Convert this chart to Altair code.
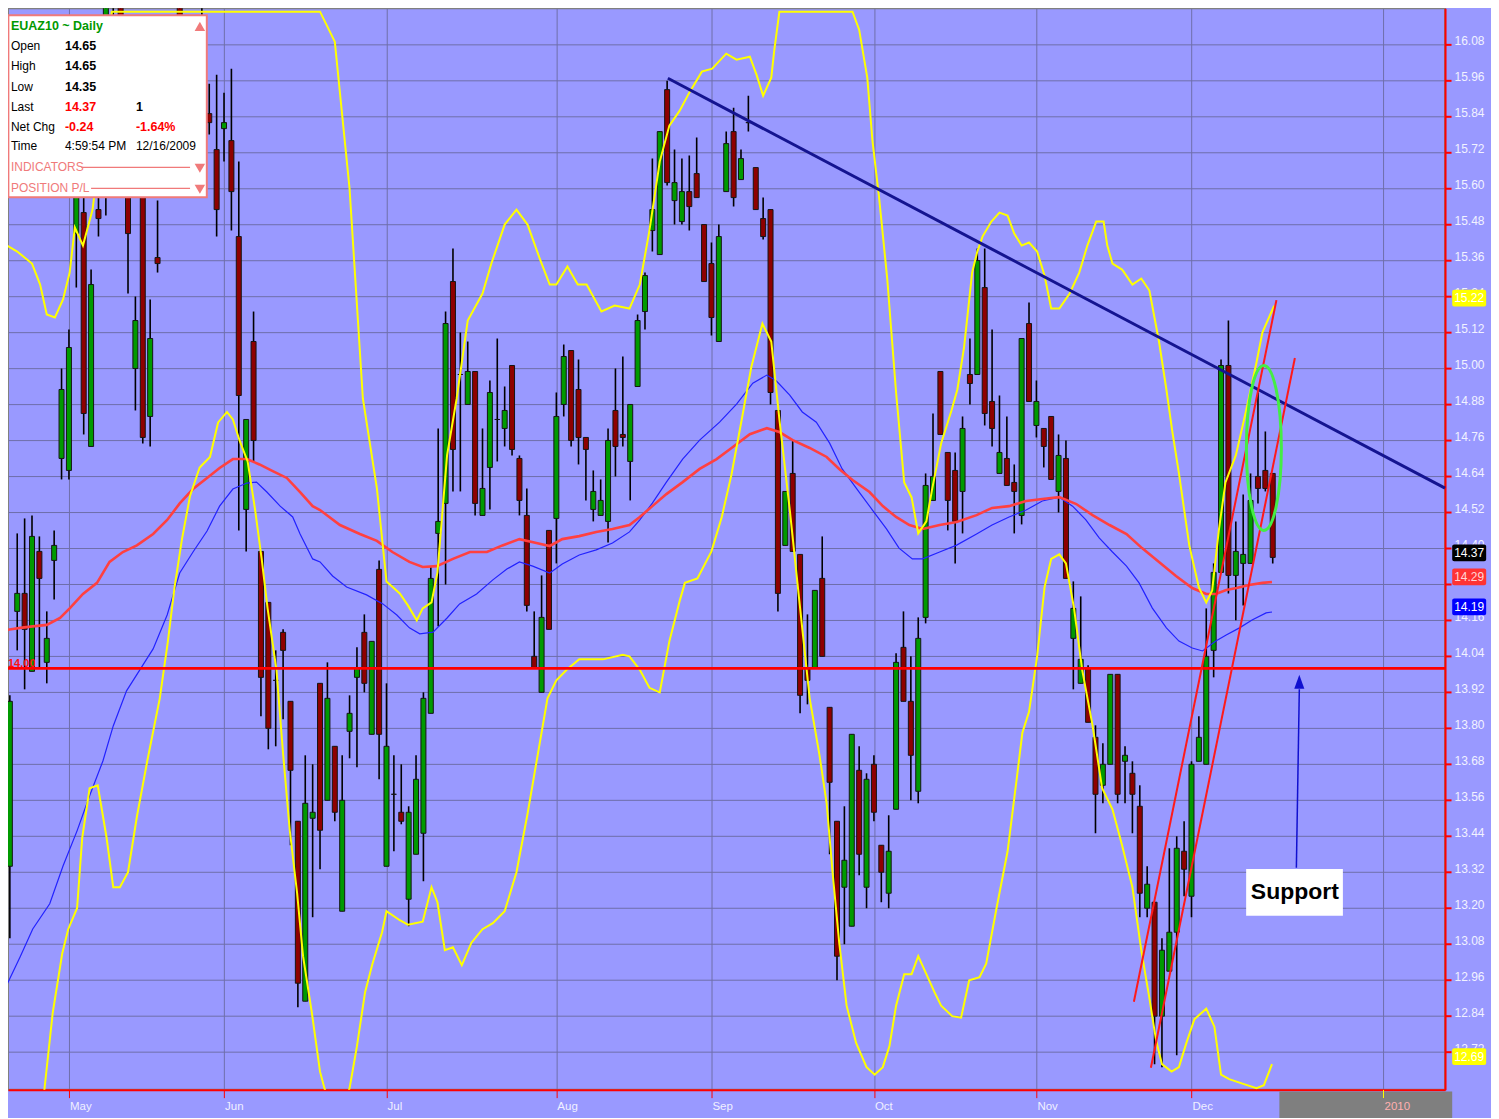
import altair as alt
import pandas as pd

FONT = "Liberation Sans, Arial, sans-serif"
BG = "#9999FF"
GRID = "#6E6EAA"
UP = "#009A00"
DOWN = "#8E0000"

X_MIN, X_MAX = -8.25, 186.33
Y_MIN, Y_MAX = 12.595, 16.201

# ---------------- daily candles (open, high, low, close), first bar = day -8 ----------------
first_day = -8
ohlc = [
    # late April
    (13.34, 13.91, 13.10, 13.89), (14.19, 14.45, 14.06, 14.25), (14.25, 14.50, 13.93, 14.13),
    (13.99, 14.51, 13.99, 14.44), (14.39, 14.44, 14.00, 14.30), (14.02, 14.19, 13.95, 14.10),
    (14.36, 14.46, 14.23, 14.41), (14.70, 15.00, 14.63, 14.93),
    # May
    (14.66, 15.13, 14.63, 15.07), (15.45, 15.75, 15.27, 15.62), (15.52, 15.60, 14.78, 14.85),
    (14.74, 15.33, 14.74, 15.28), (15.53, 15.67, 15.44, 15.50), (15.60, 16.30, 15.51, 16.25),
    (16.00, 16.30, 15.85, 16.05), (16.25, 16.30, 15.80, 15.90), (15.85, 15.95, 15.25, 15.45),
    (15.00, 15.24, 14.86, 15.16), (15.62, 15.70, 14.75, 14.77), (14.84, 15.23, 14.74, 15.10),
    (15.37, 15.56, 15.32, 15.35), (15.60, 15.85, 15.58, 15.75), (15.75, 16.00, 15.65, 15.90),
    (16.25, 16.30, 15.85, 15.95), (15.95, 16.05, 15.75, 15.85), (15.85, 16.10, 15.80, 16.00),
    (16.00, 16.30, 15.90, 16.10), (15.85, 15.95, 15.78, 15.82), (15.73, 15.98, 15.44, 15.53),
    # June
    (15.80, 15.92, 15.69, 15.82), (15.76, 16.00, 15.46, 15.59), (15.44, 15.69, 14.46, 14.91),
    (14.53, 14.83, 14.39, 14.83), (15.09, 15.19, 14.69, 14.76), (14.39, 14.39, 13.84, 13.97),
    (14.22, 14.22, 13.73, 13.80), (13.96, 14.06, 13.74, 13.96), (14.12, 14.13, 13.83, 14.06),
    (13.89, 13.89, 13.41, 13.66), (13.49, 13.49, 12.87, 12.95), (12.89, 13.71, 12.89, 13.55),
    (13.50, 13.68, 13.17, 13.52), (13.95, 13.95, 13.33, 13.46), (13.56, 14.02, 13.56, 13.90),
    (13.74, 13.74, 13.49, 13.52), (13.19, 13.71, 13.19, 13.56), (13.79, 13.91, 13.70, 13.85),
    (13.97, 14.07, 13.67, 14.00), (14.12, 14.18, 13.92, 13.95), (13.78, 14.09, 13.78, 14.09),
    (14.33, 14.36, 13.63, 13.78),
    # July
    (13.34, 13.95, 13.34, 13.74), (13.58, 13.71, 13.39, 13.58), (13.52, 13.68, 13.48, 13.49),
    (13.23, 13.54, 13.14, 13.52), (13.38, 13.71, 13.38, 13.63), (13.45, 13.92, 13.29, 13.90),
    (13.85, 14.34, 13.85, 14.30), (14.45, 14.80, 14.14, 14.49), (14.55, 15.19, 14.28, 15.15),
    (15.29, 15.40, 14.59, 14.73), (14.98, 15.12, 14.59, 14.98), (14.88, 15.09, 14.88, 14.99),
    (14.99, 14.99, 14.51, 14.55), (14.51, 14.80, 14.51, 14.60), (14.67, 14.96, 14.53, 14.92),
    (14.83, 15.10, 14.69, 14.83), (14.80, 14.94, 14.74, 14.86), (15.01, 15.01, 14.71, 14.73),
    (14.70, 14.71, 14.51, 14.56), (14.51, 14.60, 14.19, 14.21), (14.04, 14.19, 14.00, 14.00),
    (13.92, 14.31, 13.92, 14.17), (14.46, 14.46, 14.13, 14.13),
    # August
    (14.50, 14.92, 14.35, 14.84), (14.88, 15.08, 14.84, 15.04), (15.06, 15.06, 14.74, 14.76),
    (14.93, 15.03, 14.68, 14.77), (14.77, 14.77, 14.56, 14.73), (14.53, 14.66, 14.49, 14.59),
    (14.51, 14.63, 14.51, 14.56), (14.49, 14.80, 14.42, 14.76), (14.86, 15.00, 14.64, 14.74),
    (14.78, 15.04, 14.74, 14.77), (14.69, 14.88, 14.56, 14.88), (14.94, 15.18, 14.94, 15.16),
    (15.19, 15.32, 15.13, 15.31), (15.46, 15.70, 15.39, 15.53), (15.38, 15.79, 15.38, 15.79),
    (15.93, 15.96, 15.61, 15.62), (15.56, 15.73, 15.48, 15.62), (15.49, 15.70, 15.48, 15.59),
    (15.59, 15.71, 15.46, 15.54), (15.65, 15.77, 15.57, 15.57), (15.48, 15.48, 15.29, 15.29),
    # September
    (15.35, 15.42, 15.11, 15.17), (15.09, 15.48, 15.09, 15.44), (15.59, 15.79, 15.59, 15.75),
    (15.79, 15.87, 15.54, 15.57), (15.63, 15.73, 15.63, 15.70), (15.82, 15.91, 15.79, 15.82),
    (15.67, 15.67, 15.53, 15.53), (15.50, 15.57, 15.43, 15.44), (15.53, 15.53, 14.88, 14.92),
    (14.86, 14.86, 14.19, 14.25), (14.41, 14.59, 14.41, 14.59), (14.65, 14.76, 14.39, 14.39),
    (14.38, 14.38, 13.85, 13.91), (14.00, 14.18, 13.88, 13.96), (14.00, 14.26, 14.00, 14.26),
    (14.30, 14.44, 14.04, 14.04), (13.87, 13.87, 13.38, 13.62), (13.49, 13.49, 12.96, 13.04),
    (13.27, 13.54, 13.08, 13.36), (13.14, 13.78, 13.14, 13.78), (13.66, 13.74, 13.31, 13.38),
    (13.27, 13.65, 13.20, 13.63),
    # October
    (13.68, 13.71, 13.49, 13.52), (13.41, 13.41, 13.22, 13.32), (13.25, 13.51, 13.20, 13.39),
    (13.53, 14.05, 13.53, 14.02), (14.07, 14.19, 13.89, 13.89), (13.89, 14.04, 13.56, 13.71),
    (13.59, 14.17, 13.55, 14.10), (14.17, 14.65, 14.15, 14.61), (14.56, 14.85, 14.56, 14.64),
    (14.99, 14.99, 14.78, 14.78), (14.72, 14.72, 14.46, 14.56), (14.66, 14.72, 14.35, 14.49),
    (14.59, 14.84, 14.45, 14.80), (14.98, 15.10, 14.88, 14.95), (14.98, 15.40, 14.98, 15.36),
    (15.27, 15.40, 14.81, 14.85), (14.89, 15.13, 14.74, 14.80), (14.65, 14.91, 14.65, 14.72),
    (14.70, 14.84, 14.61, 14.61), (14.62, 14.68, 14.45, 14.59), (14.51, 15.10, 14.48, 15.10),
    (15.15, 15.22, 14.89, 14.89),
    # November
    (14.81, 14.96, 14.77, 14.89), (14.80, 14.80, 14.67, 14.74), (14.84, 14.84, 14.63, 14.63),
    (14.59, 14.78, 14.52, 14.71), (14.70, 14.76, 14.30, 14.30), (14.10, 14.29, 13.93, 14.20),
    (13.95, 14.24, 13.95, 14.03), (14.00, 14.01, 13.82, 13.82), (13.77, 13.81, 13.45, 13.58),
    (13.61, 13.75, 13.55, 13.68), (13.68, 13.98, 13.68, 13.98), (13.98, 13.98, 13.55, 13.58),
    (13.69, 13.74, 13.55, 13.71), (13.65, 13.69, 13.45, 13.58), (13.54, 13.61, 13.17, 13.25),
    (13.20, 13.34, 13.17, 13.28), (13.22, 13.22, 12.68, 12.84), (12.84, 13.10, 12.67, 13.06),
    (12.99, 13.40, 12.99, 13.12), (13.12, 13.44, 12.71, 13.40), (13.39, 13.49, 13.24, 13.33),
    # December
    (13.24, 13.69, 13.17, 13.68), (13.69, 13.84, 13.69, 13.77), (13.68, 14.20, 13.68, 14.04),
    (14.06, 14.35, 13.97, 14.32), (14.32, 15.03, 14.32, 15.01), (15.01, 15.16, 14.25, 14.31),
    (14.31, 14.49, 14.16, 14.39), (14.35, 14.58, 14.21, 14.38), (14.35, 14.65, 14.35, 14.56),
    (14.64, 14.92, 14.55, 14.60), (14.66, 14.79, 14.59, 14.60), (14.65, 14.65, 14.35, 14.37),
]

# ---------------- indicator lines (day index, price) ----------------
upper_band = [
    (-8.4, 15.41), (-7.0, 15.39), (-5.0, 15.35), (-3.9, 15.28), (-3.0, 15.18), (-1.9, 15.17),
    (-0.8, 15.23), (0.1, 15.32), (0.8, 15.47), (1.9, 15.41), (3.2, 15.53), (4.2, 15.73),
    (5.8, 16.19), (34.0, 16.19), (36.0, 16.09), (38.0, 15.60), (39.8, 14.90), (41.7, 14.60),
    (43.0, 14.29), (44.8, 14.25), (45.9, 14.21), (47.1, 14.16), (47.9, 14.20), (49.1, 14.22),
    (49.9, 14.32), (51.2, 14.71), (52.5, 14.90), (54.0, 15.16), (56.0, 15.25), (57.2, 15.35),
    (59.0, 15.48), (60.6, 15.53), (62.1, 15.48), (63.7, 15.37), (65.1, 15.28), (66.0, 15.28),
    (67.5, 15.34), (68.9, 15.28), (70.1, 15.28), (72.1, 15.19), (73.9, 15.21), (75.9, 15.20),
    (77.3, 15.28), (78.6, 15.46), (80.0, 15.69), (81.3, 15.81), (82.7, 15.86), (84.0, 15.92),
    (85.7, 15.99), (87.1, 16.00), (89.0, 16.05), (90.4, 16.03), (92.2, 16.04), (93.1, 15.98),
    (94.0, 15.91), (95.1, 15.97), (95.5, 16.06), (96.2, 16.19), (106.1, 16.19), (107.0, 16.13),
    (108.1, 15.97), (108.8, 15.76), (109.7, 15.57), (110.8, 15.30), (112.0, 14.92), (113.1, 14.62),
    (114.1, 14.57), (115.0, 14.45), (116.1, 14.49), (116.9, 14.60), (118.1, 14.75), (119.5, 14.86),
    (120.3, 14.93), (121.2, 15.07), (122.3, 15.32), (123.0, 15.39), (123.7, 15.44), (124.9, 15.49),
    (126.0, 15.52), (127.1, 15.51), (128.0, 15.45), (129.0, 15.41), (130.0, 15.42), (131.1, 15.39),
    (132.1, 15.31), (133.0, 15.20), (134.1, 15.20), (135.5, 15.25), (136.8, 15.32), (137.9, 15.41),
    (139.1, 15.49), (140.1, 15.49), (140.6, 15.41), (141.3, 15.35), (142.6, 15.33), (144.0, 15.28),
    (145.2, 15.30), (146.3, 15.26), (147.6, 15.09), (148.6, 14.93), (149.4, 14.79), (150.3, 14.65),
    (151.7, 14.41), (153.0, 14.27), (154.0, 14.22), (154.8, 14.26), (155.7, 14.46), (156.6, 14.62),
    (158.0, 14.71), (159.4, 14.86), (160.8, 15.02), (161.6, 15.12), (163.2, 15.21),
]
lower_band = [
    (-4.0, 12.45), (-3.3, 12.60), (-2.2, 12.85), (-0.9, 13.05), (-0.1, 13.13), (1.1, 13.20),
    (1.8, 13.435), (2.8, 13.60), (3.9, 13.61), (5.1, 13.435), (6.0, 13.27), (6.9, 13.27),
    (8.0, 13.32), (9.2, 13.505), (10.6, 13.69), (12.3, 13.90), (13.4, 14.09), (14.3, 14.27),
    (15.3, 14.43), (16.4, 14.575), (17.7, 14.67), (19.1, 14.705), (20.2, 14.82), (21.4, 14.855),
    (22.2, 14.83), (23.1, 14.76), (24.2, 14.69), (25.2, 14.53), (26.1, 14.365), (26.9, 14.20),
    (28.1, 13.995), (29.0, 13.715), (29.9, 13.46), (30.9, 13.25), (31.7, 13.04), (32.9, 12.85),
    (34.0, 12.655), (34.6, 12.60), (36.3, 12.46), (38.0, 12.60), (39.0, 12.74), (40.1, 12.92),
    (41.1, 13.015), (42.4, 13.12), (43.0, 13.19), (44.8, 13.16), (45.9, 13.145), (47.9, 13.155),
    (49.1, 13.27), (49.9, 13.22), (50.9, 13.06), (52.0, 13.07), (53.2, 13.01), (54.5, 13.085),
    (56.0, 13.13), (57.4, 13.15), (59.0, 13.19), (60.6, 13.32), (62.1, 13.515), (63.5, 13.715),
    (64.8, 13.90), (66.0, 13.96), (67.4, 13.995), (69.1, 14.03), (72.3, 14.03), (75.0, 14.045),
    (75.9, 14.04), (77.3, 13.995), (78.6, 13.935), (80.0, 13.92), (81.3, 14.09), (82.7, 14.225),
    (83.4, 14.285), (85.1, 14.30), (87.0, 14.39), (88.4, 14.505), (89.7, 14.645), (91.1, 14.83),
    (92.4, 15.005), (93.9, 15.15), (95.1, 15.09), (96.2, 14.83), (97.6, 14.53), (98.9, 14.225),
    (100.3, 13.90), (101.6, 13.715), (102.6, 13.55), (103.4, 13.32), (104.3, 13.085), (105.3, 12.875),
    (106.6, 12.75), (108.0, 12.67), (109.1, 12.645), (110.2, 12.67), (111.1, 12.74), (112.0, 12.875),
    (113.1, 12.98), (114.1, 12.98), (115.0, 13.04), (116.1, 12.98), (117.2, 12.92), (118.1, 12.875),
    (119.6, 12.84), (120.8, 12.835), (121.9, 12.96), (123.3, 12.97), (124.2, 13.015), (125.6, 13.20),
    (127.1, 13.39), (128.4, 13.645), (129.1, 13.785), (130.0, 13.855), (131.1, 14.04), (132.1, 14.27),
    (133.0, 14.365), (134.1, 14.38), (135.0, 14.35), (136.1, 14.20), (137.2, 13.995), (138.6, 13.81),
    (139.9, 13.60), (141.3, 13.53), (142.6, 13.41), (144.0, 13.27), (145.2, 13.06), (146.3, 12.90),
    (147.2, 12.76), (148.0, 12.68), (149.3, 12.655), (150.3, 12.67), (151.3, 12.75), (152.4, 12.83),
    (154.0, 12.865), (155.1, 12.805), (156.0, 12.645), (157.1, 12.63), (158.9, 12.615), (160.8, 12.60),
    (161.8, 12.61), (162.9, 12.68),
]
slow_ma = [
    (-8.4, 14.128), (-6.6, 14.135), (-4.9, 14.14), (-3.0, 14.145), (-1.2, 14.168), (0.1, 14.20),
    (1.9, 14.248), (3.8, 14.285), (5.5, 14.355), (7.3, 14.388), (9.2, 14.41), (11.4, 14.448),
    (13.3, 14.495), (15.0, 14.55), (16.8, 14.598), (18.7, 14.635), (20.4, 14.668), (22.2, 14.698),
    (24.1, 14.698), (25.8, 14.68), (27.6, 14.658), (29.5, 14.635), (31.3, 14.588), (33.0, 14.541),
    (34.0, 14.528), (36.7, 14.478), (39.4, 14.448), (41.7, 14.425), (43.8, 14.388), (46.1, 14.355),
    (47.9, 14.338), (49.8, 14.341), (52.0, 14.365), (54.3, 14.388), (56.6, 14.388), (58.7, 14.41),
    (61.0, 14.431), (63.3, 14.418), (65.1, 14.408), (66.8, 14.431), (69.1, 14.441), (71.4, 14.455),
    (73.6, 14.465), (75.9, 14.478), (77.3, 14.505), (79.0, 14.541), (80.9, 14.581), (83.1, 14.621),
    (85.4, 14.665), (87.7, 14.698), (89.9, 14.738), (92.2, 14.781), (94.5, 14.801), (96.2, 14.788),
    (98.0, 14.761), (100.3, 14.735), (102.6, 14.705), (104.3, 14.665), (106.1, 14.628), (108.4, 14.588),
    (110.2, 14.541), (112.0, 14.505), (113.8, 14.478), (115.6, 14.465), (117.9, 14.478), (120.2, 14.488),
    (122.9, 14.511), (125.0, 14.535), (127.3, 14.541), (129.6, 14.558), (131.8, 14.565), (134.1, 14.571),
    (136.4, 14.548), (138.6, 14.511), (140.9, 14.478), (143.2, 14.448), (145.3, 14.401), (147.6, 14.355),
    (149.9, 14.308), (152.1, 14.268), (154.0, 14.248), (155.3, 14.248), (156.7, 14.261), (158.1, 14.268),
    (159.8, 14.278), (161.6, 14.285), (162.9, 14.288),
]
fast_ma = [
    (-8.4, 12.945), (-6.6, 13.038), (-4.9, 13.131), (-2.6, 13.215), (-0.8, 13.341), (1.1, 13.458),
    (2.8, 13.575), (4.6, 13.691), (6.0, 13.808), (7.8, 13.925), (9.6, 13.995), (11.4, 14.065),
    (13.3, 14.178), (15.0, 14.318), (16.8, 14.388), (18.7, 14.458), (20.4, 14.541), (22.2, 14.598),
    (24.1, 14.618), (25.4, 14.621), (26.8, 14.588), (28.6, 14.541), (30.3, 14.505), (31.3, 14.448),
    (33.0, 14.365), (34.0, 14.355), (35.7, 14.308), (37.6, 14.271), (40.3, 14.245), (42.5, 14.215),
    (44.4, 14.178), (46.1, 14.135), (47.5, 14.115), (49.3, 14.121), (51.2, 14.168), (52.9, 14.215),
    (55.2, 14.248), (57.4, 14.295), (59.3, 14.331), (61.0, 14.355), (62.8, 14.341), (65.1, 14.318),
    (66.8, 14.348), (69.1, 14.378), (71.4, 14.395), (73.6, 14.418), (75.9, 14.455), (77.3, 14.495),
    (79.0, 14.551), (80.9, 14.621), (83.1, 14.698), (85.4, 14.761), (88.1, 14.821), (90.4, 14.881),
    (92.6, 14.951), (94.5, 14.978), (95.8, 14.958), (97.6, 14.911), (99.3, 14.855), (101.2, 14.821),
    (103.0, 14.751), (104.7, 14.665), (107.0, 14.588), (108.8, 14.528), (110.7, 14.465), (112.4, 14.401),
    (114.2, 14.365), (115.6, 14.365), (117.9, 14.388), (120.2, 14.411), (122.9, 14.448), (125.0, 14.478),
    (127.3, 14.505), (129.6, 14.528), (131.8, 14.558), (134.1, 14.571), (135.9, 14.541), (137.7, 14.495),
    (139.5, 14.435), (141.3, 14.388), (143.2, 14.341), (144.9, 14.285), (146.7, 14.201), (148.6, 14.135),
    (150.3, 14.091), (152.1, 14.068), (153.5, 14.058), (155.3, 14.091), (156.7, 14.111), (158.5, 14.135),
    (160.2, 14.161), (162.1, 14.185), (162.9, 14.188),
]

# drawn trend lines (day index, price)
down_trend = [(81.1, 15.968), (186.33, 14.601)]
up_channel_a = [(144.2, 12.888), (163.5, 15.228)]
up_channel_b = [(146.5, 12.668), (166.0, 15.035)]
support_level = [14.00]

# axes
month_ticks = [0, 21, 43, 66, 87, 109, 131, 152, 178]
month_names = ["May", "Jun", "Jul", "Aug", "Sep", "Oct", "Nov", "Dec", "2010"]
price_ticks = [12.72, 12.84, 12.96, 13.08, 13.20, 13.32, 13.44, 13.56, 13.68, 13.80, 13.92,
               14.04, 14.16, 14.28, 14.40, 14.52, 14.64, 14.76, 14.88, 15.00, 15.12, 15.24,
               15.36, 15.48, 15.60, 15.72, 15.84, 15.96, 16.08]

# last-value tags on the price axis
tag_values = [15.22, 14.37, 14.29, 14.19, 12.69]
tag_fills = ["#FFFF00", "#000000", "#FF3333", "#0000FF", "#FFFF00"]
tag_text = ["#FFFFFF", "#FFFFFF", "#FFD6D6", "#FFFFFF", "#FFFFFF"]

# ---------------- frames ----------------
candles = pd.DataFrame(ohlc, columns=["open", "high", "low", "close"])
candles["i"] = list(range(first_day, first_day + len(candles)))


def pts(pairs):
    return pd.DataFrame(pairs, columns=["i", "p"])


XS = alt.Scale(domain=[X_MIN, X_MAX], nice=False, zero=False, padding=0)
YS = alt.Scale(domain=[Y_MIN, Y_MAX], nice=False, zero=False, padding=0)

x_axis = alt.Axis(values=month_ticks, labels=False, grid=True, gridColor=GRID, gridWidth=1,
                  ticks=True, tickColor="#FF0000", tickSize=8, tickWidth=1,
                  domainColor="#FF0000", domainWidth=2, title=None)
y_axis = alt.Axis(orient="right", values=price_ticks, format=".2f", grid=True, gridColor=GRID,
                  gridWidth=1, tickColor="#FF0000", tickSize=6, tickWidth=2,
                  domainColor="#FF0000", domainWidth=2, labelColor="#F2F2FF", labelFont=FONT,
                  labelFontSize=12, labelPadding=3, labelOffset=-4, labelOverlap=False, title=None)


def X(f):
    return alt.X(f"{f}:Q", scale=XS, axis=x_axis)


def Y(f):
    return alt.Y(f"{f}:Q", scale=YS, axis=y_axis)


wicks = alt.Chart(candles).mark_rule(color="#000000", strokeWidth=1.6, clip=True).encode(
    x=X("i"), y=Y("low"), y2="high:Q")
bodies = alt.Chart(candles).mark_bar(size=5, stroke="#151515", strokeWidth=1, clip=True).encode(
    x=X("i"), y=Y("open"), y2="close:Q",
    color=alt.condition("datum.close >= datum.open", alt.value(UP), alt.value(DOWN)),
)

fast_line = alt.Chart(pts(fast_ma)).mark_line(color="#2222FF", strokeWidth=1.2, clip=True).encode(
    x=X("i"), y=Y("p"))
slow_line = alt.Chart(pts(slow_ma)).mark_line(color="#FF4040", strokeWidth=2.6, clip=True).encode(
    x=X("i"), y=Y("p"))
up_line = alt.Chart(pts(upper_band)).mark_line(color="#FFFF00", strokeWidth=2, clip=True).encode(
    x=X("i"), y=Y("p"))
lo_line = alt.Chart(pts(lower_band)).mark_line(color="#FFFF00", strokeWidth=2, clip=True).encode(
    x=X("i"), y=Y("p"))

support = alt.Chart(pd.DataFrame({"p": support_level})).mark_rule(
    color="#FF0000", strokeWidth=2.6).encode(y=Y("p"))
support_lbl = alt.Chart(pd.DataFrame({"p": support_level, "i": [X_MIN]})).mark_text(
    text="14.00", color="#FF1010", font=FONT, fontSize=11, fontWeight="bold",
    align="left", baseline="alphabetic", dx=0, dy=-1).encode(x=X("i"), y=Y("p"))

trend_blue = alt.Chart(pts(down_trend)).mark_line(color="#141490", strokeWidth=3).encode(
    x=X("i"), y=Y("p"))
chan_a = alt.Chart(pts(up_channel_a)).mark_line(color="#FF1A1A", strokeWidth=2).encode(
    x=X("i"), y=Y("p"))
chan_b = alt.Chart(pts(up_channel_b)).mark_line(color="#FF1A1A", strokeWidth=2).encode(
    x=X("i"), y=Y("p"))

ELLIPSE = ("M0,-1C0.117,-1,0.212,-0.552,0.212,0C0.212,0.552,0.117,1,0,1"
           "C-0.117,1,-0.212,0.552,-0.212,0C-0.212,-0.552,-0.117,-1,0,-1Z")
ellipse = alt.Chart(pd.DataFrame({"i": [161.8], "p": [14.735]})).mark_point(
    shape=ELLIPSE, size=27225, filled=False, color="#44EE44", strokeWidth=3, opacity=1).encode(
    x=X("i"), y=Y("p"))

arrow = alt.Chart(pd.DataFrame({"i": [166.2], "p": [13.335], "i2": [166.6], "p2": [13.93]})).mark_rule(
    color="#1010D0", strokeWidth=1.5).encode(x=X("i"), y=Y("p"), x2="i2:Q", y2="p2:Q")
ARROWHEAD = "M0,-1L-0.72,1L0.72,1Z"
arrow_head = alt.Chart(pd.DataFrame({"i": [166.6], "p": [13.955]})).mark_point(
    shape=ARROWHEAD, size=196, filled=True, color="#1010D0", opacity=1).encode(x=X("i"), y=Y("p"))

sup_box = alt.Chart(pd.DataFrame({"i": [159.4], "i2": [172.5], "p": [13.175], "p2": [13.331]})).mark_rect(
    color="#FFFFFF").encode(x=X("i"), x2="i2:Q", y=Y("p"), y2="p2:Q")
sup_txt = alt.Chart(pd.DataFrame({"i": [166.0], "p": [13.253]})).mark_text(
    text="Support", font=FONT, fontSize=23, fontWeight="bold", color="#000000",
    align="center", baseline="middle").encode(x=X("i"), y=Y("p"))

# value tags right of the plot
tags = pd.DataFrame({"v": tag_values, "fill": tag_fills, "tc": tag_text})
tag_rect = alt.Chart(tags).transform_calculate(
    top="datum.v + 0.043", bot="datum.v - 0.013", x1="187.3", x2="191.9").mark_rect(
    cornerRadius=2).encode(x=X("x1"), x2="x2:Q", y=Y("top"), y2="bot:Q",
                           color=alt.Color("fill:N", scale=None))
tag_txt = alt.Chart(tags).transform_calculate(
    yy="datum.v + 0.015", xx="189.6", lbl="format(datum.v, '.2f')").mark_text(
    font=FONT, fontSize=12, align="center", baseline="middle").encode(
    x=X("xx"), y=Y("yy"), text="lbl:N", color=alt.Color("tc:N", scale=None))

# future zone under the time axis + month labels
future = alt.Chart(pd.DataFrame({"i": [163.9], "i2": [187.3], "p": [12.589], "p2": [12.49]})).mark_rect(
    color="#7F7F7F").encode(x=X("i"), x2="i2:Q", y=Y("p"), y2="p2:Q")
year_tick = alt.Chart(pd.DataFrame({"i": [178], "p": [12.594], "p2": [12.567]})).mark_rule(
    color="#FFFF00", strokeWidth=1).encode(x=X("i"), y=Y("p"), y2="p2:Q")
months = pd.DataFrame({"i": month_ticks, "name": month_names})
month_lbl = alt.Chart(months).transform_calculate(p="12.538").mark_text(
    font=FONT, fontSize=11.5, align="left", baseline="middle", dx=1).encode(
    x=X("i"), y=Y("p"), text="name:N",
    color=alt.condition("datum.name == '2010'", alt.value("#FFB0B0"), alt.value("#F0F0FF")))

# ---------------- quote window (top-left) ----------------
SAL = "#F07A7A"
info_box = alt.Chart(pd.DataFrame({"i": [-8.2], "i2": [18.67], "p": [16.178], "p2": [15.571]})).mark_rect(
    fill="#FFFFFF", stroke=SAL, strokeWidth=2).encode(x=X("i"), x2="i2:Q", y=Y("p"), y2="p2:Q")

info_plain = pd.DataFrame([
    ("Open", -7.85, 16.075, "#000000"), ("High", -7.85, 16.008, "#000000"),
    ("Low", -7.85, 15.938, "#000000"), ("Last", -7.85, 15.871, "#000000"),
    ("Net Chg", -7.85, 15.805, "#000000"), ("Time", -7.85, 15.741, "#000000"),
    ("4:59:54 PM", -0.54, 15.741, "#000000"), ("12/16/2009", 9.07, 15.741, "#000000"),
    ("INDICATORS", -7.85, 15.671, SAL), ("POSITION P/L", -7.85, 15.601, SAL),
], columns=["t", "i", "p", "c"])
info_bold = pd.DataFrame([
    ("EUAZ10 ~ Daily", -7.85, 16.141, "#009900"),
    ("14.65", -0.54, 16.075, "#000000"), ("14.65", -0.54, 16.008, "#000000"),
    ("14.35", -0.54, 15.938, "#000000"), ("14.37", -0.54, 15.871, "#FF0000"),
    ("1", 9.07, 15.871, "#000000"), ("-0.24", -0.54, 15.805, "#FF0000"),
    ("-1.64%", 9.07, 15.805, "#FF0000"),
], columns=["t", "i", "p", "c"])
txt_plain = alt.Chart(info_plain).mark_text(font=FONT, fontSize=12, align="left", baseline="middle").encode(
    x=X("i"), y=Y("p"), text="t:N", color=alt.Color("c:N", scale=None))
txt_bold = alt.Chart(info_bold).mark_text(font=FONT, fontSize=12.5, fontWeight="bold", align="left",
                                          baseline="middle").encode(
    x=X("i"), y=Y("p"), text="t:N", color=alt.Color("c:N", scale=None))
info_lines = alt.Chart(pd.DataFrame({"i": [1.7, 3.0], "i2": [16.4, 16.4], "p": [15.671, 15.601]})).mark_rule(
    color=SAL, strokeWidth=1.2).encode(x=X("i"), x2="i2:Q", y=Y("p"))
tri_up = alt.Chart(pd.DataFrame({"i": [17.73], "p": [16.141]})).mark_point(
    shape="triangle-up", size=110, filled=True, color=SAL, opacity=1).encode(x=X("i"), y=Y("p"))
tri_dn = alt.Chart(pd.DataFrame({"i": [17.73, 17.73], "p": [15.668, 15.598]})).mark_point(
    shape="triangle-down", size=110, filled=True, color=SAL, opacity=1).encode(x=X("i"), y=Y("p"))

chart = alt.layer(
    wicks, bodies, fast_line, slow_line, up_line, lo_line, support, support_lbl,
    trend_blue, chan_a, chan_b, ellipse, arrow, arrow_head, sup_box, sup_txt,
    tag_rect, tag_txt, future, year_tick, month_lbl,
    info_box, txt_plain, txt_bold, info_lines, tri_up, tri_dn,
).properties(
    width=1438, height=1082,
    padding={"left": 0, "top": 0, "right": 46, "bottom": 28},
    autosize=alt.AutoSizeParams(type="none"),
    background=BG,
).configure_view(stroke="#808080", strokeWidth=2)

chart.save("out.html", embed_options={"renderer": "svg", "actions": False})
